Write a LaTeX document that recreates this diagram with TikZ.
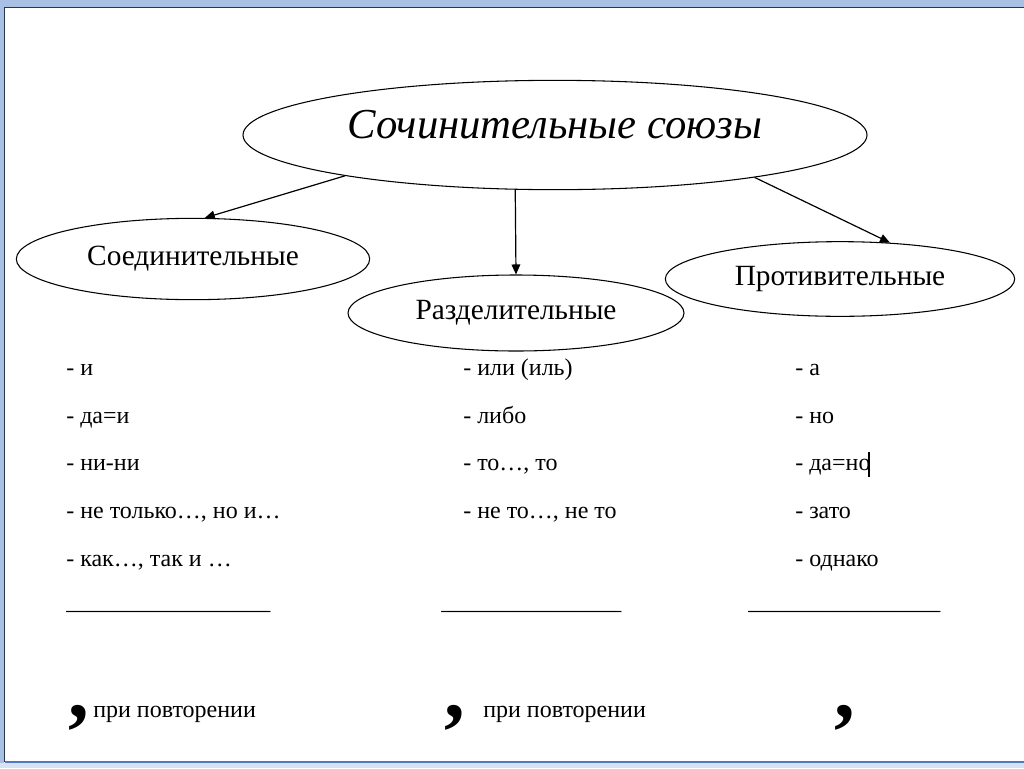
\documentclass[tikz,border=0pt]{standalone}
\usepackage{fontspec}
\setmainfont{Liberation Serif}
\usetikzlibrary{shapes.geometric,arrows.meta}

\definecolor{framebl}{RGB}{167,192,228}
\definecolor{framelt}{RGB}{214,227,245}
\definecolor{framedk}{RGB}{39,53,79}
\definecolor{framemd}{RGB}{79,124,192}

\tikzset{
  oval/.style={draw, ellipse, inner sep=0pt, line width=0.8pt, font=\fontsize{22}{26}\selectfont},
  item/.style={anchor=base west, inner sep=0pt, font=\fontsize{18}{22}\selectfont},
  arr/.style={-{Triangle[length=7.5pt,width=6.5pt]}, line width=0.9pt},
  zpt/.style={anchor=base west, inner sep=0pt, font=\fontsize{62}{62}\selectfont\bfseries}
}

\begin{document}
\begin{tikzpicture}[x=0.75pt,y=0.75pt,yscale=-1]
\useasboundingbox (0,0) rectangle (1024,768);

%Window frame
\fill[white] (0,0) rectangle (1024,768);
\fill[framebl] (0,0) rectangle (1024,7);
\fill[framebl] (0,0) rectangle (4,768);
\fill[framelt] (0,763) rectangle (1024,768);
\draw[framedk, line width=1.2] (4.5,762) -- (4.5,7.5) -- (1024,7.5);
\draw[framemd, line width=2] (4.5,762) -- (1024,762);

%Shape: Ellipse
\node[oval, minimum width=468pt, minimum height=82pt, text depth=16pt, font=\fontsize{32}{36}\selectfont\itshape] (soyuzy) at (555,135) {Сочинительные союзы};
%Shape: Ellipse
\node[oval, minimum width=265pt, minimum height=61pt] (soed) at (193,259) {Соединительные};
%Shape: Ellipse
\node[oval, minimum width=252pt, minimum height=57pt] (razd) at (516,313) {Разделительные};
%Shape: Ellipse
\node[oval, minimum width=262pt, minimum height=56pt] (protiv) at (840,279) {Противительные};

%Straight Lines
\draw[arr] (soyuzy.191.5) -- (soed.74);
%Straight Lines
\draw[arr] (soyuzy.234) -- (razd.north);
%Straight Lines
\draw[arr] (soyuzy.348) -- (protiv.36);

% Text Node
\node[item] (s1) at (66,375) {- и};
% Text Node
\node[item] (s2) at (66,423) {- да=и};
% Text Node
\node[item] (s3) at (66,470) {- ни-ни};
% Text Node
\node[item] (s4) at (66,518) {- не только…, но и…};
% Text Node
\node[item] (s5) at (66,566) {- как…, так и …};

% Text Node
\node[item] (r1) at (463,375) {- или (иль)};
% Text Node
\node[item] (r2) at (463,423) {- либо};
% Text Node
\node[item] (r3) at (463,470) {- то…, то};
% Text Node
\node[item] (r4) at (463,518) {- не то…, не то};

% Text Node
\node[item] (p1) at (795,375) {- а};
% Text Node
\node[item] (p2) at (795,423) {- но};
% Text Node
\node[item] (p3) at (795,470) {- да=но};
% Text Node
\node[item] (p4) at (795,518) {- зато};
% Text Node
\node[item] (p5) at (795,566) {- однако};
%Straight Lines
\draw[line width=1.2] (869,452) -- (869,477);

% Text Node
\node[item] (u1) at (66,609) {\_\_\_\_\_\_\_\_\_\_\_\_\_\_\_\_\_};
% Text Node
\node[item] (u2) at (441,609) {\_\_\_\_\_\_\_\_\_\_\_\_\_\_\_};
% Text Node
\node[item] (u3) at (748,609) {\_\_\_\_\_\_\_\_\_\_\_\_\_\_\_\_};

% Text Node
\node[zpt] (z1) at (68,717) {,};
% Text Node
\node[item] (t1) at (93,717) {при повторении};
% Text Node
\node[zpt] (z2) at (444,717) {,};
% Text Node
\node[item] (t2) at (483,717) {при повторении};
% Text Node
\node[zpt] (z3) at (834,717) {,};
\end{tikzpicture}
\end{document}
